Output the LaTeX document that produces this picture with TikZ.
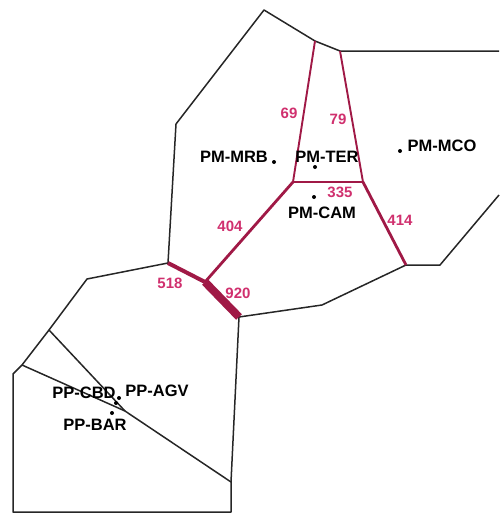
\documentclass[tikz,border=0pt]{standalone}
\usepackage{fontspec}
\setmainfont{Liberation Sans}
\begin{document}
\begin{tikzpicture}[x=1pt,y=-1pt,
  edge/.style={draw=black!85, line width=1.5pt, line join=round},
  redge/.style={draw=lcol, line join=round},
  site/.style={font=\bfseries\fontsize{16.5}{18}\selectfont, inner sep=0pt, text=black},
  num/.style={font=\bfseries\fontsize{15}{17}\selectfont, inner sep=0pt, text=ncol},
  dot/.style={circle, fill=black, inner sep=0pt, minimum size=4pt}]
\definecolor{lcol}{RGB}{160,25,70}
\definecolor{ncol}{RGB}{208,48,110}
\useasboundingbox (0,0) rectangle (499,514);
% vertices
\coordinate (t1) at (264,10);
\coordinate (t2) at (315,41);
\coordinate (t3) at (340,51);
\coordinate (t4) at (499,51);
\coordinate (l1) at (176,124);
\coordinate (a) at (293,182);
\coordinate (b) at (363,182);
\coordinate (c) at (406,265);
\coordinate (c2) at (440,265);
\coordinate (r1) at (499,195);
\coordinate (j5) at (168,263);
\coordinate (j4) at (205,282);
\coordinate (j9) at (239,317);
\coordinate (m1) at (322,305);
\coordinate (p1) at (87,279);
\coordinate (p2) at (49,330);
\coordinate (p3) at (22,365);
\coordinate (p4) at (13,374);
\coordinate (p5) at (13,512);
\coordinate (p6) at (231,512);
\coordinate (p7) at (231,482);
\coordinate (v) at (125,411);
% black boundaries
\draw[edge] (l1) -- (t1) -- (t2) -- (t3) -- (t4);
\draw[edge] (l1) -- (j5);
\draw[edge] (c) -- (c2) -- (r1);
\draw[edge] (j9) -- (m1) -- (c);
\draw[edge] (j5) -- (p1) -- (p2) -- (p3) -- (p4) -- (p5) -- (p6) -- (p7) -- (j9);
\draw[edge] (p2) -- (v);
\draw[edge] (p3) -- (v) -- (p7);
% red edges
\draw[redge, line width=1.9pt] (t2) -- (a);
\draw[redge, line width=1.9pt] (t3) -- (b);
\draw[redge, line width=2.8pt] (a) -- (b);
\draw[redge, line width=2.8pt] (a) -- (j4);
\draw[redge, line width=2.8pt] (b) -- (c);
\draw[redge, line width=4pt] (j5) -- (j4);
\draw[redge, line width=8pt] (j4) -- (j9);
% sites
\node[dot] (dMRB) at (274,162) {};
\node[dot] (dTER) at (315,167) {};
\node[dot] (dMCO) at (400,151) {};
\node[dot] (dCAM) at (314,197) {};
\node[dot] (dAGV) at (119,398) {};
\node[dot] (dCBD) at (116,403) {};
\node[dot] (dBAR) at (112,413) {};
\node[site] (nMRB) at (234,157) {PM-MRB};
\node[site] (nTER) at (327,157) {PM-TER};
\node[site] (nMCO) at (442,146) {PM-MCO};
\node[site] (nCAM) at (322,213) {PM-CAM};
\node[site] (nCBD) at (84,393) {PP-CBD};
\node[site] (nAGV) at (157,391) {PP-AGV};
\node[site] (nBAR) at (95,425) {PP-BAR};
% numbers
\node[num] (w69) at (289,113) {69};
\node[num] (w79) at (338,119) {79};
\node[num] (w335) at (340,192) {335};
\node[num] (w414) at (400,220) {414};
\node[num] (w404) at (230,226) {404};
\node[num] (w518) at (170,283) {518};
\node[num] (w920) at (238,293) {920};
\end{tikzpicture}
\end{document}
